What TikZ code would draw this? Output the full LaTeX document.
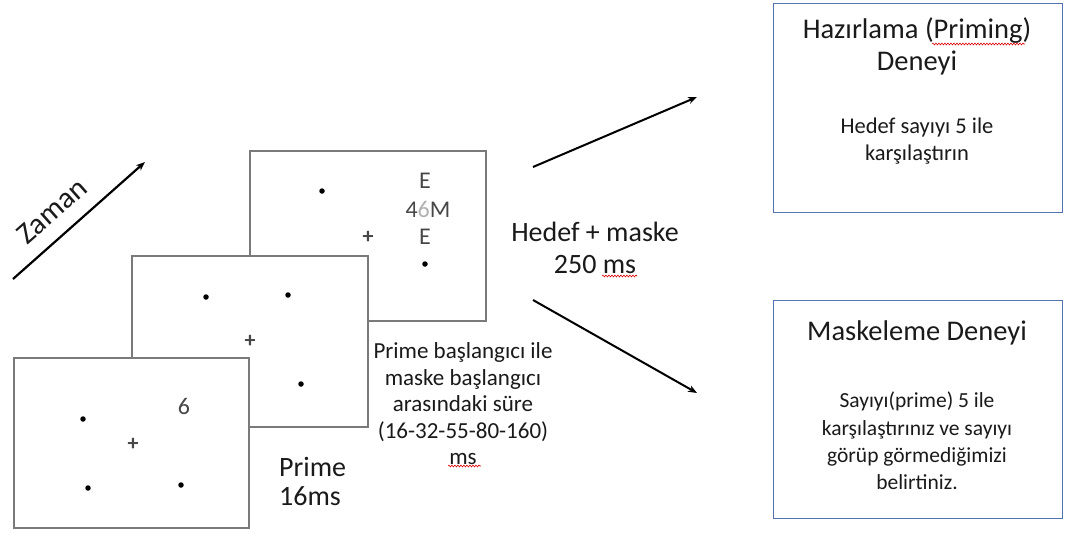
\documentclass[tikz,border=0pt]{standalone}
\usepackage{fontspec}
\setmainfont{Carlito}
\usetikzlibrary{arrows.meta,decorations.pathmorphing}
\definecolor{framegray}{HTML}{7A7A7A}
\definecolor{boxblue}{HTML}{5572B0}
\definecolor{txt}{HTML}{1A1A1A}
\tikzset{
  frame/.style={draw=framegray, line width=1.6pt, fill=white, minimum width=#1, inner sep=0pt, anchor=north west},
  dotmark/.style={circle, fill=black, inner sep=0pt, minimum size=5.5pt},
  crossmark/.style={inner sep=0pt, font=\fontsize{22}{22}\selectfont\bfseries, text=black!72},
  stim/.style={inner sep=0pt, font=\fontsize{24}{24}\selectfont, text=black!72},
  lbl/.style={inner sep=0pt, text=txt, align=center},
  arr/.style={line width=2pt, -{Stealth[length=9pt,width=7pt]}},
  resbox/.style={draw=boxblue, line width=1.2pt, fill=white, inner sep=0pt, anchor=north west},
  wavy/.style={draw=red!85!black, line width=0.6pt, decorate, decoration={snake, amplitude=0.9pt, segment length=3pt}}
}
\begin{document}
\begin{tikzpicture}[x=1pt,y=-1pt]
\useasboundingbox[fill=white] (0,0) rectangle (1073,536);
% frames back to front
\node[frame=236pt, minimum height=170pt] (f3) at (249,150) {};
\node[frame=236pt, minimum height=171pt] (f2) at (131,255) {};
\node[frame=235pt, minimum height=170pt] (f1) at (13,357) {};
% frame 3 content
\node[dotmark] (d31) at (322,191) {};
\node[dotmark] (d32) at (425,264) {};
\node[crossmark] (c3) at (368,237) {+};
\node[stim] (e1) at (425,181) {E};
\node[stim] (m46) at (428,209) {4\textcolor{black!30}{6}M};
\node[stim] (e2) at (425,237) {E};
% frame 2 content
\node[dotmark] (d21) at (206,297) {};
\node[dotmark] (d22) at (288,295) {};
\node[dotmark] (d23) at (301,384) {};
\node[crossmark] (c2) at (250,341) {+};
% frame 1 content
\node[dotmark] (d11) at (83,419) {};
\node[dotmark] (d12) at (88,488) {};
\node[dotmark] (d13) at (181,485) {};
\node[crossmark] (c1) at (133,444) {+};
\node[stim] (six) at (184,406) {6};
% time arrow
\coordinate (z0) at (13,279);
\coordinate (z1) at (145,162);
\draw[arr, line width=2.2pt] (z0) -- (z1);
\node[lbl, rotate=41.5, font=\fontsize{30}{30}\selectfont] (zaman) at (52,211) {Zaman};
% labels
\node[lbl, align=left, anchor=west, font=\fontsize{28}{29}\selectfont] (prime) at (279,481) {Prime\\16ms};
\node[lbl, font=\fontsize{23}{26.5}\selectfont] (soa) at (463,404) {Prime başlangıcı ile\\maske başlangıcı\\arasındaki süre\\(16-32-55-80-160)\\ms};
\node[lbl, font=\fontsize{28}{32}\selectfont] (hm) at (595,248) {Hedef + maske\\250 ms};
% result boxes
\node[resbox, minimum width=289pt, minimum height=209pt] (b1) at (773,3) {};
\node[resbox, minimum width=289pt, minimum height=218pt] (b2) at (773,300) {};
\node[lbl, font=\fontsize{28.5}{32}\selectfont] (b1t) at (917,46) {Hazırlama (Priming)\\Deneyi};
\node[lbl, font=\fontsize{22.5}{27}\selectfont] (b1b) at (917,141) {Hedef sayıyı 5 ile\\karşılaştırın};
\node[lbl, font=\fontsize{28.5}{28}\selectfont] (b2t) at (917,333) {Maskeleme Deneyi};
\node[lbl, font=\fontsize{21.5}{27.3}\selectfont] (b2b) at (917,441) {Sayıyı(prime) 5 ile\\karşılaştırınız ve sayıyı\\görüp görmediğimizi\\belirtiniz.};
% branch arrows
\coordinate (a0) at (533,167);
\coordinate (a1) at (697,97);
\coordinate (a2) at (533,300);
\coordinate (a3) at (697,393);
\draw[arr] (a0) -- (a1);
\draw[arr] (a2) -- (a3);
% spell-check underlines
\coordinate (w1a) at (932,44); \coordinate (w1b) at (1025,44);
\draw[wavy] (w1a) -- (w1b);
\coordinate (w2a) at (602,276); \coordinate (w2b) at (637,276);
\draw[wavy] (w2a) -- (w2b);
\coordinate (w3a) at (448,466); \coordinate (w3b) at (481,466);
\draw[wavy] (w3a) -- (w3b);
\end{tikzpicture}
\end{document}
